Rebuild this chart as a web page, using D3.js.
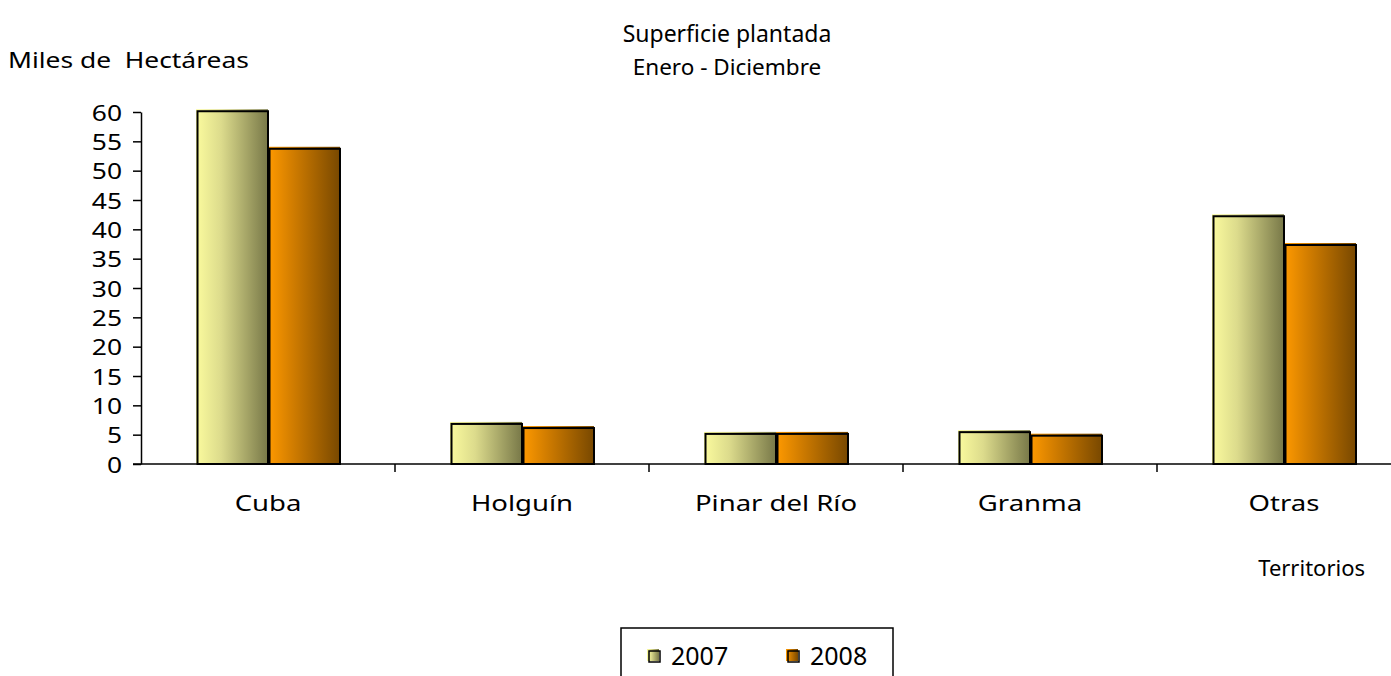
<!DOCTYPE html>
<html>
<head>
<meta charset="utf-8">
<script src="https://cdn.jsdelivr.net/npm/d3@7"></script>
<style>
  body { margin: 0; background: #fff; }
  text { font-family: "Noto Sans", "Open Sans", sans-serif; fill: #000; }
</style>
</head>
<body>
<div id="chart"></div>
<script>
const categories = ['Cuba', 'Holguín', 'Pinar del Río', 'Granma', 'Otras'];
const seriesNames = ['2007', '2008'];
const values2007 = [60.3, 7.0, 5.3, 5.6, 42.4];
const values2008 = [53.9, 6.3, 5.3, 5.0, 37.5];
const yTicks = [0, 5, 10, 15, 20, 25, 30, 35, 40, 45, 50, 55, 60];

const width = 1391, height = 676;
const margin = {left: 141, top: 112, bottom: 212};
const plotBottom = height - margin.bottom; // 464

const gradColors = {
    '2007': ['#fbfb9e', '#dcdb8c', '#787848'],
    '2008': ['#ff9a00', '#d07c00', '#784800']
};

// the source font is wider than Noto Sans, so stretch labels horizontally
function stretched(sel, x, y, sx) {
    return sel.attr("transform", "translate(" + x + "," + y + ") scale(" + sx + ",1)");
}

let svg = d3.select("#chart")
    .append("svg")
    .attr("width", width)
    .attr("height", height);

let defs = svg.append("defs");
seriesNames.forEach(function (s) {
    let grad = defs.append("linearGradient")
        .attr("id", "grad" + s)
        .attr("x1", "0%").attr("x2", "100%")
        .attr("y1", "0%").attr("y2", "0%");
    grad.append("stop").attr("offset", "0%").attr("stop-color", gradColors[s][0]);
    grad.append("stop").attr("offset", "35%").attr("stop-color", gradColors[s][1]);
    grad.append("stop").attr("offset", "100%").attr("stop-color", gradColors[s][2]);
});

let x0 = d3.scaleBand()
    .domain(categories)
    .range([margin.left, margin.left + 254 * categories.length])
    .paddingInner(0)
    .paddingOuter(0);

let x1 = d3.scaleBand()
    .domain(seriesNames)
    .range([0, x0.bandwidth()])
    .paddingInner(0)
    .paddingOuter(0.764);

let y = d3.scaleLinear()
    .domain([0, 60])
    .range([plotBottom, margin.top]);

// bars
let data = categories.map((c, i) => ({cat: c, vals: [
    {s: '2007', v: values2007[i]},
    {s: '2008', v: values2008[i]}
]}));

let groups = svg.append("g").selectAll("g")
    .data(data)
    .join("g")
    .attr("transform", d => "translate(" + x0(d.cat) + ",0)");

groups.selectAll("rect.fill")
    .data(d => d.vals)
    .join("rect")
    .attr("class", "fill")
    .attr("x", d => x1(d.s))
    .attr("y", d => y(d.v) - 1)
    .attr("width", x1.bandwidth())
    .attr("height", d => plotBottom - y(d.v) + 1)
    .attr("fill", d => "url(#grad" + d.s + ")");

groups.selectAll("rect.edge")
    .data(d => d.vals)
    .join("rect")
    .attr("class", "edge")
    .attr("x", d => x1(d.s) + 1.5)
    .attr("y", d => y(d.v) + 1)
    .attr("width", x1.bandwidth() - 1.5)
    .attr("height", d => plotBottom - y(d.v) - 1)
    .attr("fill", "none")
    .attr("stroke", "#000")
    .attr("stroke-width", 2);

// y axis
let yAxis = svg.append("g")
    .attr("transform", "translate(" + margin.left + ",0)")
    .call(d3.axisLeft(y).tickValues(yTicks).tickSize(8).tickSizeOuter(0).tickPadding(6));
yAxis.selectAll("line, path").attr("stroke", "#000").attr("stroke-width", 1.5);
yAxis.selectAll("text")
    .style("font-size", "22px")
    .style("font-family", "'Noto Sans', sans-serif")
    .attr("dy", null)
    .attr("x", null)
    .each(function () {
        stretched(d3.select(this), -19, 8, 1.2);
    });

// x axis
let xAxis = svg.append("g");
xAxis.append("line")
    .attr("x1", margin.left - 8).attr("x2", width)
    .attr("y1", plotBottom).attr("y2", plotBottom)
    .attr("stroke", "#000").attr("stroke-width", 1.5);
xAxis.selectAll("line.tick")
    .data(categories)
    .join("line")
    .attr("class", "tick")
    .attr("x1", d => x0(d) + x0.bandwidth()).attr("x2", d => x0(d) + x0.bandwidth())
    .attr("y1", plotBottom).attr("y2", plotBottom + 8)
    .attr("stroke", "#000").attr("stroke-width", 1.5);
xAxis.selectAll("text")
    .data(categories)
    .join("text")
    .attr("text-anchor", "middle")
    .style("font-size", "22px")
    .text(d => d)
    .each(function (d) {
        stretched(d3.select(this), x0(d) + x0.bandwidth() / 2, 511, 1.25);
    });

// titles
svg.append("text")
    .attr("x", 727).attr("y", 42)
    .attr("text-anchor", "middle")
    .style("font-size", "23px")
    .text("Superficie plantada");
svg.append("text")
    .attr("x", 727).attr("y", 75)
    .attr("text-anchor", "middle")
    .style("font-size", "22.5px")
    .text("Enero - Diciembre");
stretched(svg.append("text"), 8, 68, 1.2)
    .attr("xml:space", "preserve")
    .style("font-size", "22px")
    .text("Miles de  Hectáreas");
svg.append("text")
    .attr("x", 1365).attr("y", 576)
    .attr("text-anchor", "end")
    .style("font-size", "22px")
    .text("Territorios");

// legend
let legend = svg.append("g");
legend.append("rect")
    .attr("x", 621).attr("y", 628)
    .attr("width", 272).attr("height", 60)
    .attr("fill", "none")
    .attr("stroke", "#000")
    .attr("stroke-width", 1.5);
let legendX = {'2007': 648, '2008': 787};
let items = legend.selectAll("g.item")
    .data(seriesNames)
    .join("g")
    .attr("class", "item")
    .attr("transform", d => "translate(" + legendX[d] + ",650)");
items.append("rect")
    .attr("x", -1).attr("y", -1)
    .attr("width", 12).attr("height", 12)
    .attr("fill", d => "url(#grad" + d + ")");
items.append("rect")
    .attr("x", 1).attr("y", 1)
    .attr("width", 11).attr("height", 11)
    .attr("fill", "none")
    .attr("stroke", "#000")
    .attr("stroke-width", 1.5);
items.append("text")
    .attr("x", 23).attr("y", 15)
    .style("font-size", "25px")
    .text(d => d);
</script>
</body>
</html>
